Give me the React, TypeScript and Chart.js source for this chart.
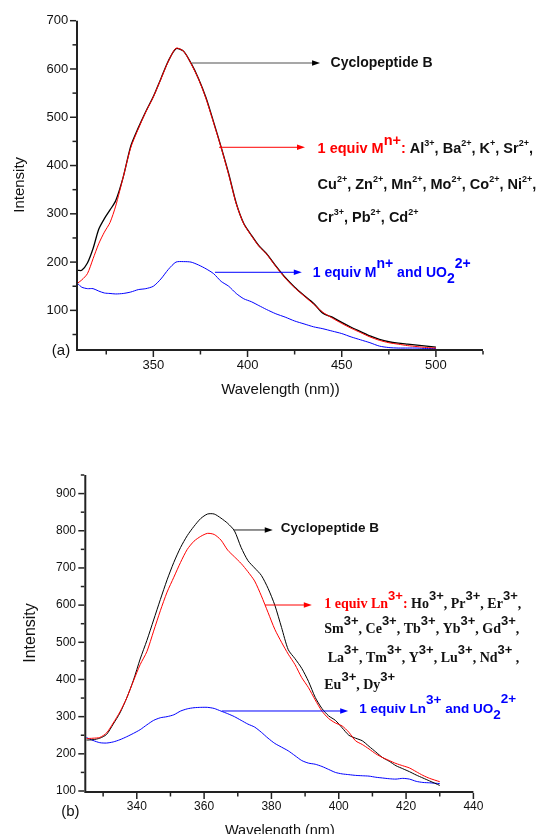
import React, { useEffect, useRef } from 'react';
import { Chart, registerables } from 'chart.js';

Chart.register(...registerables);

const SANS = '"Liberation Sans", Arial, Helvetica, sans-serif';
const SERIF = '"Liberation Serif", "Times New Roman", Times, serif';
const RED = '#ff0000';
const BLUE = '#0000ff';
const INK = '#111111';
const AXIS = '#222222';

// ---------- Panel (a) data ----------
const waveA = [310, 312, 315, 318, 321, 324, 327, 330, 334, 338, 342, 346, 350, 354, 358, 362, 366, 370, 374, 378, 382, 386, 390, 394, 398, 402, 406, 410, 415, 420, 425, 430, 435, 440, 445, 450, 455, 460, 465, 470, 475, 480, 485, 490, 495, 500];
const cycloA = [183, 183, 198, 228, 268, 290, 308, 327, 376, 440, 478, 512, 543, 580, 617, 642, 637, 612, 580, 540, 490, 438, 383, 322, 280, 256, 234, 218, 192, 168, 148, 131, 115, 94, 86, 75, 65, 56, 47, 40, 35, 32, 30, 28, 26, 24];
const metalA = [157, 163, 176, 207, 238, 262, 282, 316, 376, 437, 476, 511, 542, 579, 616, 643, 637, 611, 579, 538, 488, 437, 381, 321, 279, 255, 233, 217, 191, 167, 147, 130, 113, 96, 84, 73, 63, 54, 45, 38, 33, 30, 27, 25, 23, 22];
const uranylA = [155, 148, 145, 145, 140, 136, 135, 134, 135, 138, 143, 145, 150, 165, 185, 200, 201, 200, 194, 186, 176, 160, 150, 135, 124, 118, 110, 102, 93, 86, 78, 72, 66, 62, 57, 52, 45, 39, 33, 26, 23, 22, 22, 22, 21, 21];
const xTicksA = [350, 400, 450, 500];
const xMinorA = [325, 375, 425, 475, 525];
const yTicksA = [100, 200, 300, 400, 500, 600, 700];
const yMinorA = [50, 150, 250, 350, 450, 550, 650];

// ---------- Panel (b) data ----------
const waveB = [325, 327, 329, 331, 333, 335, 337, 339, 341, 343, 345, 347, 349, 351, 353, 355, 357, 359, 361, 363, 365, 367, 369, 371, 373, 375, 377, 379, 381, 383, 385, 387, 389, 391, 393, 395, 397, 399, 401, 403, 405, 407, 409, 411, 413, 415, 417, 419, 421, 423, 425, 427, 430];
const cycloB = [237, 238, 242, 252, 280, 310, 350, 398, 455, 505, 560, 615, 668, 715, 755, 787, 812, 833, 845, 845, 834, 820, 800, 755, 720, 700, 680, 645, 600, 540, 480, 456, 430, 395, 352, 322, 302, 290, 270, 250, 242, 235, 220, 205, 190, 180, 168, 160, 152, 143, 135, 127, 115];
const lnB = [241, 242, 244, 256, 283, 313, 350, 396, 440, 475, 530, 585, 635, 675, 715, 750, 772, 785, 793, 790, 775, 748, 730, 712, 690, 665, 625, 580, 535, 500, 468, 440, 405, 378, 345, 315, 295, 283, 275, 258, 235, 225, 213, 200, 190, 182, 174, 168, 162, 152, 142, 134, 125];
const uranylB = [244, 236, 230, 229, 232, 238, 246, 255, 265, 278, 290, 297, 300, 305, 315, 321, 324, 325, 325, 322, 315, 308, 300, 290, 280, 272, 258, 242, 228, 218, 208, 195, 182, 175, 172, 166, 158, 150, 146, 144, 142, 141, 140, 137, 135, 133, 132, 134, 132, 126, 123, 122, 120];
const xTicksB = [340, 360, 380, 400, 420, 440];
const xMinorB = [330, 350, 370, 390, 410, 430];
const yTicksB = [100, 200, 300, 400, 500, 600, 700, 800, 900];
const yMinorB = [150, 250, 350, 450, 550, 650, 750, 850, 950];

// ---------- annotation texts ----------
type Seg = [string, string, number, number, string];
type Ion = [string, string];
const ionsA1: Ion[] = [['Al', '3+'], ['Ba', '2+'], ['K', '+'], ['Sr', '2+']];
const ionsA2: Ion[] = [['Cu', '2+'], ['Zn', '2+'], ['Mn', '2+'], ['Mo', '2+'], ['Co', '2+'], ['Ni', '2+']];
const ionsA3: Ion[] = [['Cr', '3+'], ['Pb', '2+'], ['Cd', '2+']];
const ionsB1: Ion[] = [['Ho', '3+'], ['Pr', '3+'], ['Er', '3+']];
const ionsB2: Ion[] = [['Sm', '3+'], ['Ce', '3+'], ['Tb', '3+'], ['Yb', '3+'], ['Gd', '3+']];
const ionsB3: Ion[] = [['La', '3+'], ['Tm', '3+'], ['Y', '3+'], ['Lu', '3+'], ['Nd', '3+']];
const ionsB4: Ion[] = [['Eu', '3+'], ['Dy', '3+']];

function ionLine(ions: Ion[], fam: string, size: number, supFam: string, supSize: number, supDy: number, lead: string, trail: string): Seg[] {
  const segs: Seg[] = [];
  ions.forEach(([el, ch], i) => {
    segs.push([(i === 0 ? lead : ', ') + el, INK, size, 0, fam]);
    segs.push([ch, INK, supSize, supDy, supFam]);
  });
  if (trail) segs.push([trail, INK, size, 0, fam]);
  return segs;
}

const redA1: Seg[] = [['1 equiv M', RED, 14.5, 0, SANS], ['n+', RED, 14.5, -8, SANS], [':', RED, 14.5, 0, SANS], ...ionLine(ionsA1, SANS, 14.5, SANS, 9, -7, ' ', ',')];
const redA2: Seg[] = ionLine(ionsA2, SANS, 14.5, SANS, 9, -7, '', ',');
const redA3: Seg[] = ionLine(ionsA3, SANS, 14.5, SANS, 9, -7, '', '');
const blueA: Seg[] = [['1 equiv M', BLUE, 14, 0, SANS], ['n+', BLUE, 14, -9, SANS], [' and UO', BLUE, 14, 0, SANS], ['2', BLUE, 14, 6, SANS], ['2+', BLUE, 14, -9, SANS]];
const cycloTextA: Seg[] = [['Cyclopeptide B', INK, 14, 0, SANS]];

const redB1: Seg[] = [['1 equiv Ln', RED, 14, 0, SERIF], ['3+', RED, 13, -8, SANS], [':', RED, 14, 0, SERIF], ...ionLine(ionsB1, SERIF, 14, SANS, 13, -8, ' ', ',')];
const redB2: Seg[] = ionLine(ionsB2, SERIF, 14, SANS, 13, -8, '', ',');
const redB3: Seg[] = ionLine(ionsB3, SERIF, 14, SANS, 13, -8, ' ', ' ,');
const redB4: Seg[] = ionLine(ionsB4, SERIF, 14, SANS, 13, -8, '', '');
const blueB: Seg[] = [['1 equiv Ln', BLUE, 13.5, 0, SANS], ['3+', BLUE, 13.5, -9, SANS], [' and UO', BLUE, 13.5, 0, SANS], ['2', BLUE, 13.5, 6, SANS], ['2+', BLUE, 13.5, -10, SANS]];
const cycloTextB: Seg[] = [['Cyclopeptide B', INK, 13.5, 0, SANS]];

// annotation anchors in data units (wavelength, intensity)
interface Arrow { x1: number; x2: number; y: number; line: string; head: string; w: number }
interface TextBlock { x: number; y: number; segs: Seg[] }
const arrowsA: Arrow[] = [
  { x1: 370.5, x2: 438.5, y: 612.4, line: '#8a8a8a', head: '#000', w: 1.5 },
  { x1: 384.9, x2: 430.5, y: 437.8, line: RED, head: RED, w: 1 },
  { x1: 382.7, x2: 428.8, y: 178.9, line: BLUE, head: BLUE, w: 1 },
];
const textsA: TextBlock[] = [
  { x: 444.1, y: 603.1, segs: cycloTextA },
  { x: 437.2, y: 425.3, segs: redA1 },
  { x: 437.2, y: 350.8, segs: redA2 },
  { x: 437.2, y: 283.7, segs: redA3 },
  { x: 434.6, y: 169.7, segs: blueA },
];
const arrowsB: Arrow[] = [
  { x1: 368.7, x2: 380.4, y: 802.1, line: '#222', head: '#000', w: 1 },
  { x1: 378.1, x2: 392.0, y: 600.3, line: RED, head: RED, w: 1 },
  { x1: 365.3, x2: 402.8, y: 315.2, line: BLUE, head: BLUE, w: 1 },
];
const textsB: TextBlock[] = [
  { x: 382.8, y: 797.5, segs: cycloTextB },
  { x: 395.7, y: 591.4, segs: redB1 },
  { x: 395.7, y: 524.2, segs: redB2 },
  { x: 395.7, y: 447.8, segs: redB3 },
  { x: 395.7, y: 373.6, segs: redB4 },
  { x: 406.1, y: 309.0, segs: blueB },
];

interface Decor {
  xMajor: number[]; xMinor: number[]; yMajor: number[]; yMinor: number[];
  arrows: Arrow[]; texts: TextBlock[]; tag: string; tagDx: number; tagDy: number;
}

function drawRich(ctx: CanvasRenderingContext2D, x: number, y: number, segs: Seg[]) {
  let cx = x;
  ctx.textAlign = 'left';
  ctx.textBaseline = 'alphabetic';
  for (const [t, c, size, dy, fam] of segs) {
    ctx.font = `bold ${size}px ${fam}`;
    ctx.fillStyle = c;
    ctx.fillText(t, cx, y + dy);
    cx += ctx.measureText(t).width;
  }
}

function decorPlugin(d: Decor) {
  return {
    id: 'decor',
    afterDraw(chart: any) {
      const { ctx, chartArea: ca } = chart;
      const xs = chart.scales.x;
      const ys = chart.scales.y;
      ctx.save();
      ctx.strokeStyle = AXIS;
      ctx.lineWidth = 2;
      ctx.beginPath();
      ctx.moveTo(ca.left - 1, ca.top);
      ctx.lineTo(ca.left - 1, ca.bottom + 1);
      ctx.lineTo(ca.right, ca.bottom + 1);
      ctx.stroke();
      ctx.lineWidth = 1.5;
      const seg = (x1: number, y1: number, x2: number, y2: number) => {
        ctx.beginPath(); ctx.moveTo(x1, y1); ctx.lineTo(x2, y2); ctx.stroke();
      };
      d.xMajor.forEach(v => { const p = xs.getPixelForValue(v); seg(p, ca.bottom + 2, p, ca.bottom + 8); });
      d.xMinor.forEach(v => { const p = xs.getPixelForValue(v); seg(p, ca.bottom + 2, p, ca.bottom + 5.5); });
      d.yMajor.forEach(v => { const p = ys.getPixelForValue(v); seg(ca.left - 2, p, ca.left - 8, p); });
      d.yMinor.forEach(v => { const p = ys.getPixelForValue(v); seg(ca.left - 2, p, ca.left - 5.5, p); });

      d.arrows.forEach(a => {
        const x1 = xs.getPixelForValue(a.x1);
        const x2 = xs.getPixelForValue(a.x2);
        const y = ys.getPixelForValue(a.y);
        ctx.strokeStyle = a.line;
        ctx.lineWidth = a.w;
        seg(x1, y, x2 - 6, y);
        ctx.fillStyle = a.head;
        ctx.beginPath();
        ctx.moveTo(x2, y);
        ctx.lineTo(x2 - 8, y - 2.8);
        ctx.lineTo(x2 - 8, y + 2.8);
        ctx.closePath();
        ctx.fill();
      });
      d.texts.forEach(t => drawRich(ctx, xs.getPixelForValue(t.x), ys.getPixelForValue(t.y), t.segs));

      ctx.font = `15px ${SANS}`;
      ctx.fillStyle = INK;
      ctx.textAlign = 'center';
      ctx.textBaseline = 'middle';
      ctx.fillText(d.tag, ca.left + d.tagDx, ca.bottom + d.tagDy);
      ctx.restore();
    },
  };
}

const ds = (label: string, xs: number[], ys: number[], color: string, w: number) => ({
  label,
  data: xs.map((x, i) => ({ x, y: ys[i] })),
  borderColor: color,
  backgroundColor: color,
  borderWidth: w,
  pointRadius: 0,
  tension: 0.25,
  fill: false,
});

function xScale(min: number, max: number, ticks: number[], height: number, size: number, pad: number, title: string, tSize: number, tPad: number) {
  return {
    type: 'linear', position: 'bottom', min, max,
    afterBuildTicks: (s: any) => { s.ticks = ticks.map(v => ({ value: v })); },
    afterFit: (s: any) => { s.height = height; },
    grid: { display: false, drawTicks: true, tickLength: 6 },
    border: { display: false },
    ticks: { padding: pad, color: INK, autoSkip: false, maxRotation: 0, font: { family: SANS, size } },
    title: { display: true, text: title, color: INK, font: { family: SANS, size: tSize }, padding: { top: 0, bottom: tPad } },
  };
}

function yScale(min: number, max: number, ticks: number[], width: number, size: number, pad: number, title: string, tSize: number, tPad: number) {
  return {
    type: 'linear', position: 'left', min, max,
    afterBuildTicks: (s: any) => { s.ticks = ticks.map(v => ({ value: v })); },
    afterFit: (s: any) => { s.width = width; },
    grid: { display: false, drawTicks: true, tickLength: 6 },
    border: { display: false },
    ticks: { padding: pad, color: INK, autoSkip: false, font: { family: SANS, size } },
    title: { display: true, text: title, color: INK, font: { family: SANS, size: tSize }, padding: { top: tPad, bottom: 0 } },
  };
}

const makeA = () => ({
  type: 'line',
  data: {
    datasets: [
      ds('1 equiv Mn+', waveA, metalA, RED, 1),
      ds('Cyclopeptide B', waveA, cycloA, '#000000', 1.3),
      ds('1 equiv Mn+ and UO2 2+', waveA, uranylA, BLUE, 1),
    ],
  },
  options: {
    responsive: false,
    animation: false,
    events: [],
    layout: { padding: { left: 0, top: 20.7, right: 53, bottom: 0 } },
    plugins: { legend: { display: false }, tooltip: { enabled: false } },
    scales: {
      x: xScale(310, 525, xTicksA, 61, 13, 3, 'Wavelength (nm))', 15, 11.3),
      y: yScale(20, 700, yTicksA, 78, 13, 3.7, 'Intensity', 15, 11),
    },
  },
  plugins: [decorPlugin({ xMajor: xTicksA, xMinor: xMinorA, yMajor: yTicksA, yMinor: yMinorA, arrows: arrowsA, texts: textsA, tag: '(a)', tagDx: -17, tagDy: 2 })],
});

const makeB = () => ({
  type: 'line',
  data: {
    datasets: [
      ds('1 equiv Ln3+', waveB, lnB, RED, 1),
      ds('Cyclopeptide B', waveB, cycloB, '#000000', 1),
      ds('1 equiv Ln3+ and UO2 2+', waveB, uranylB, BLUE, 1),
    ],
  },
  options: {
    responsive: false,
    animation: false,
    events: [],
    layout: { padding: { left: 0, top: 65, right: 62.6, bottom: 0 } },
    plugins: { legend: { display: false }, tooltip: { enabled: false } },
    scales: {
      x: xScale(325, 440, xTicksB, 59, 12, 2.4, 'Wavelength (nm)', 14.5, 10.8),
      y: yScale(100, 950, yTicksB, 86.3, 12, 4.3, 'Intensity', 16, 21.4),
    },
  },
  plugins: [decorPlugin({ xMajor: xTicksB, xMinor: xMinorB, yMajor: yTicksB, yMinor: yMinorB, arrows: arrowsB, texts: textsB, tag: '(b)', tagDx: -16, tagDy: 21 })],
});

function Panel({ make, top, height }: { make: () => any; top: number; height: number }) {
  const ref = useRef<HTMLCanvasElement>(null);
  useEffect(() => {
    const chart = new Chart(ref.current as HTMLCanvasElement, make());
    return () => chart.destroy();
  }, [make]);
  return (
    <canvas
      ref={ref}
      width={536}
      height={height}
      style={{ position: 'absolute', left: 0, top, width: 536, height, display: 'block' }}
    />
  );
}

export default function App() {
  return (
    <div style={{ position: 'absolute', left: 0, top: 0, width: 536, height: 834, overflow: 'hidden', background: '#ffffff' }}>
      <Panel make={makeA} top={0} height={410} />
      <Panel make={makeB} top={410} height={440} />
    </div>
  );
}
